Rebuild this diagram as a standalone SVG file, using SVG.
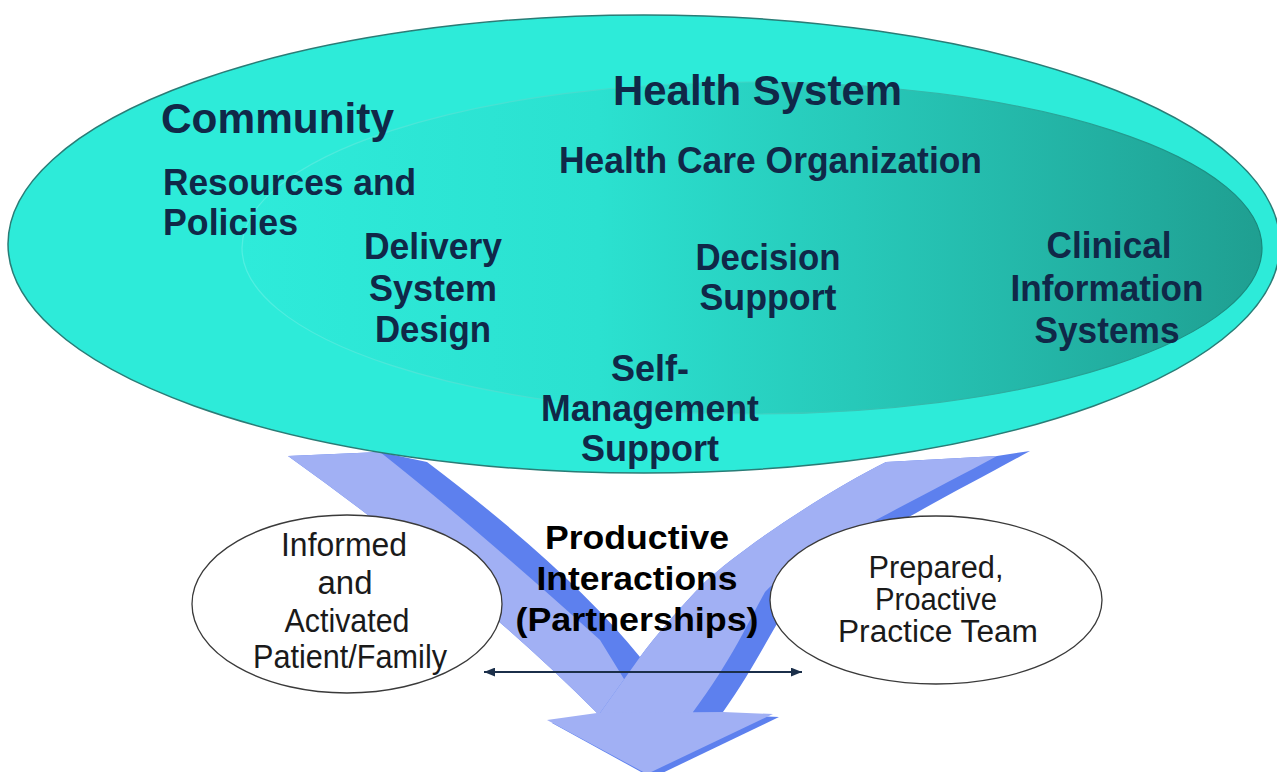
<svg xmlns="http://www.w3.org/2000/svg" width="1277" height="772" viewBox="0 0 1277 772">
  <defs>
    <linearGradient id="innerGrad" x1="0" y1="0" x2="1" y2="0">
      <stop offset="0" stop-color="#2EEBDA"/>
      <stop offset="0.35" stop-color="#2BE1D0"/>
      <stop offset="0.6" stop-color="#27C9B9"/>
      <stop offset="0.85" stop-color="#22AFA1"/>
      <stop offset="1" stop-color="#1F9F91"/>
    </linearGradient>
    <linearGradient id="innerStroke" x1="0" y1="0" x2="1" y2="0">
      <stop offset="0" stop-color="#52EFE1"/>
      <stop offset="0.5" stop-color="#3FD3C4"/>
      <stop offset="1" stop-color="#17877B"/>
    </linearGradient>
    <marker id="ah" viewBox="0 0 10 8" refX="10" refY="4" markerWidth="11" markerHeight="9" markerUnits="userSpaceOnUse" orient="auto-start-reverse">
      <path d="M0,0 L10,4 L0,8 Z" fill="#1B2F4A"/>
    </marker>
    <style>
      .lt { fill: #A1B0F4; }
      .dk { fill: #5D80EE; }
      .t { font-family: "Liberation Sans", Arial, sans-serif; font-weight: bold; fill: #102848; font-size: 36px; }
      .big { font-size: 42px; }
      .mid { text-anchor: middle; }
      .pi { font-family: "Liberation Sans", Arial, sans-serif; font-weight: bold; fill: #000; font-size: 34px; text-anchor: middle; }
      .sm { font-family: "Liberation Sans", Arial, sans-serif; fill: #1A1A1A; font-size: 33px; text-anchor: middle; }
      .sm2 { font-size: 31px; }
      .node { fill: #FFFFFF; stroke: #3A3A3A; stroke-width: 1.3; }
    </style>
  </defs>

  <rect width="1277" height="772" fill="#FFFFFF"/>

  <!-- Big converging arrow -->
  <g id="arrow">
    <!-- left arm -->
    <path class="dk" d="M288,456 L380,452 L427,462 Q570,570 640,657 L660,716 L597,716 L597,713 Q470,586 288,456 Z"/>
    <path class="lt" d="M288,456 L380,452 Q475,527 600,640 L640,705 L640,716 L597,716 L597,713 Q470,586 288,456 Z"/>
    <!-- right arm -->
    <path class="dk" d="M886,462 L997,456 L1030,451 C950,495 840,550 800,590 C780,612 760,660 723,712 L723,716 L600,716 L600,713 L640,657 C655,637 680,607 705,582 C745,545 830,490 886,462 Z"/>
    <path class="lt" d="M886,462 L997,456 C920,498 800,555 765,592 C752,615 732,660 693,712 L693,716 L600,716 L600,713 L640,657 C655,637 680,607 705,582 C745,545 830,490 886,462 Z"/>
    <!-- head -->
    <path class="dk" d="M552,723 L602,716 L728,715 L779,717 L652,778 Z"/>
    <path class="lt" d="M547,720 L597,713 L723,712 L773,714 L647,774 Z"/>
  </g>

  <!-- Community (outer ellipse), containing the Health System -->
  <g id="community">
    <ellipse cx="644" cy="244" rx="636" ry="229" fill="#2DEBD9" stroke="#2A7C76" stroke-width="1.5"/>

    <g id="health-system">
      <ellipse cx="752" cy="248" rx="510" ry="166" fill="url(#innerGrad)" stroke="url(#innerStroke)" stroke-width="1.2"/>
      <text class="t big" x="613" y="105" textLength="289" lengthAdjust="spacingAndGlyphs">Health System</text>
      <text class="t" x="559" y="173" textLength="423" lengthAdjust="spacingAndGlyphs">Health Care Organization</text>

      <g id="delivery-system-design">
        <text class="t mid" x="433" y="259" textLength="138" lengthAdjust="spacingAndGlyphs">Delivery</text>
        <text class="t mid" x="433" y="301" textLength="128" lengthAdjust="spacingAndGlyphs">System</text>
        <text class="t mid" x="433" y="342" textLength="116" lengthAdjust="spacingAndGlyphs">Design</text>
      </g>

      <g id="decision-support">
        <text class="t mid" x="768" y="270" textLength="145" lengthAdjust="spacingAndGlyphs">Decision</text>
        <text class="t mid" x="768" y="310" textLength="137" lengthAdjust="spacingAndGlyphs">Support</text>
      </g>

      <g id="clinical-information-systems">
        <text class="t mid" x="1109" y="258" textLength="125" lengthAdjust="spacingAndGlyphs">Clinical</text>
        <text class="t mid" x="1107" y="301" textLength="193" lengthAdjust="spacingAndGlyphs">Information</text>
        <text class="t mid" x="1107" y="343" textLength="145" lengthAdjust="spacingAndGlyphs">Systems</text>
      </g>

      <g id="self-management-support">
        <text class="t mid" x="650" y="381" textLength="78" lengthAdjust="spacingAndGlyphs">Self-</text>
        <text class="t mid" x="650" y="421" textLength="218" lengthAdjust="spacingAndGlyphs">Management</text>
        <text class="t mid" x="650" y="461" textLength="138" lengthAdjust="spacingAndGlyphs">Support</text>
      </g>
    </g>

    <text class="t big" x="161" y="133" textLength="233" lengthAdjust="spacingAndGlyphs">Community</text>
    <text class="t" x="163" y="195" textLength="253" lengthAdjust="spacingAndGlyphs">Resources and</text>
    <text class="t" x="163" y="235" textLength="135" lengthAdjust="spacingAndGlyphs">Policies</text>
  </g>

  <!-- Patient node -->
  <g id="patient">
    <ellipse class="node" cx="347" cy="604" rx="155" ry="89"/>
    <text class="sm" x="344" y="556" textLength="126" lengthAdjust="spacingAndGlyphs">Informed</text>
    <text class="sm" x="345" y="594" textLength="55" lengthAdjust="spacingAndGlyphs">and</text>
    <text class="sm" x="347" y="632" textLength="125" lengthAdjust="spacingAndGlyphs">Activated</text>
    <text class="sm" x="350" y="668" textLength="194" lengthAdjust="spacingAndGlyphs">Patient/Family</text>
  </g>

  <!-- Practice team node -->
  <g id="practice-team">
    <ellipse class="node" cx="936" cy="600" rx="166" ry="84"/>
    <text class="sm sm2" x="936" y="578" textLength="135" lengthAdjust="spacingAndGlyphs">Prepared,</text>
    <text class="sm sm2" x="936" y="610" textLength="122" lengthAdjust="spacingAndGlyphs">Proactive</text>
    <text class="sm sm2" x="938" y="642" textLength="200" lengthAdjust="spacingAndGlyphs">Practice Team</text>
  </g>

  <!-- Connectors -->
  <g id="connectors">
    <line x1="484" y1="672" x2="802" y2="672" stroke="#1B2F4A" stroke-width="2" marker-start="url(#ah)" marker-end="url(#ah)"/>
  </g>

  <g id="productive-interactions">
    <text class="pi" x="637" y="549" textLength="184" lengthAdjust="spacingAndGlyphs">Productive</text>
    <text class="pi" x="637" y="590" textLength="201" lengthAdjust="spacingAndGlyphs">Interactions</text>
    <text class="pi" x="637" y="631" textLength="243" lengthAdjust="spacingAndGlyphs">(Partnerships)</text>
  </g>
</svg>
